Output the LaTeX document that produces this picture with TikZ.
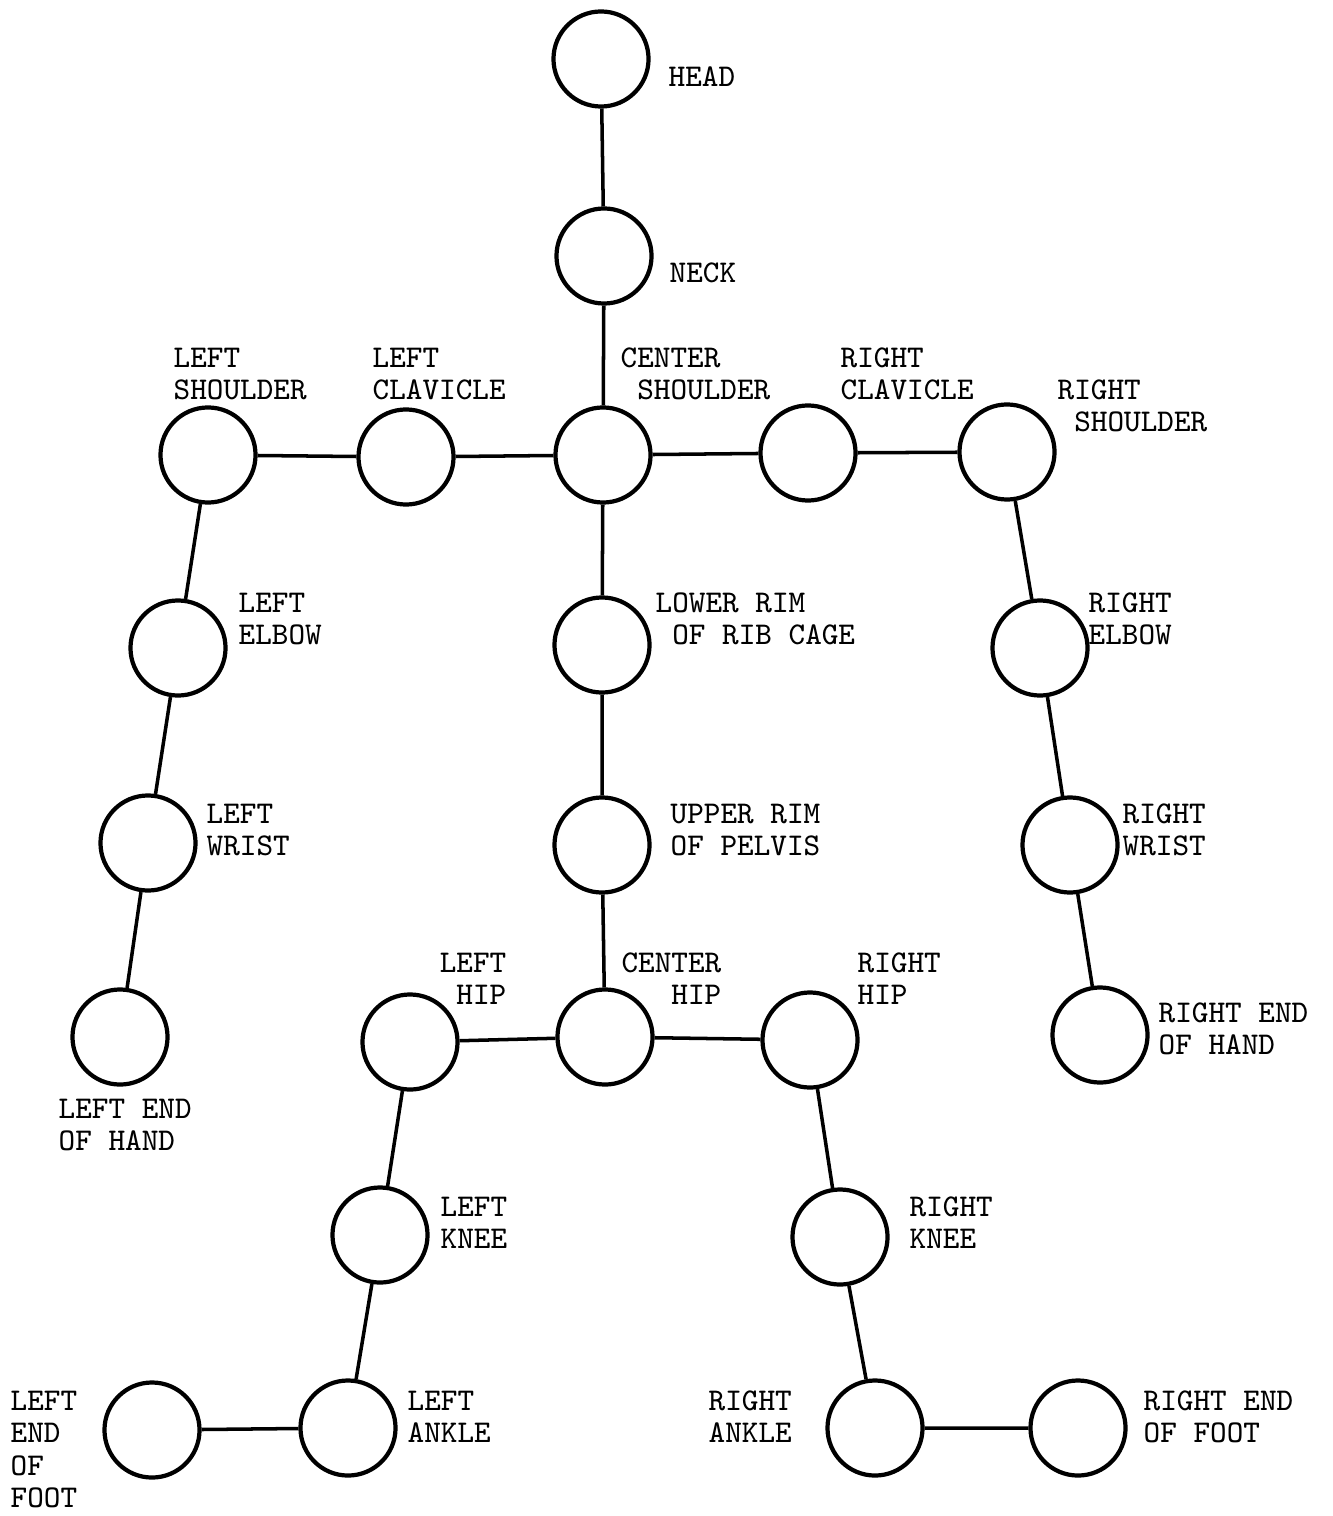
\documentclass[tikz,border=0pt]{standalone}
\usepackage{tikz}
\usetikzlibrary{positioning}

\begin{document}
\begin{tikzpicture}[x=0.01cm, y=-0.01cm,
  joint/.style={circle, draw, line width=1.2pt, minimum size=0.95cm, inner sep=0pt},
  bone/.style={line width=1pt},
  lbl/.style={inner sep=0pt, align=left, anchor=north west,
    font=\ttfamily\fontsize{9}{9.25}\selectfont},
  lblr/.style={lbl, align=right, anchor=north east}]
  \useasboundingbox (0,0) rectangle (1332,1516);

  % Spine
  \node[joint] (head) at (601,59) {};
  \node[joint] (neck) at (604,256) {};
  \node[joint] (cshoulder) at (603,455) {};
  \node[joint] (lowerrim) at (602,645) {};
  \node[joint] (upperrim) at (602,845) {};
  \node[joint] (chip) at (605,1037) {};

  % Shoulders and arms
  \node[joint] (lclavicle) at (406,457) {};
  \node[joint] (lshoulder) at (208,455) {};
  \node[joint] (lelbow) at (178,648) {};
  \node[joint] (lwrist) at (148,843) {};
  \node[joint] (lhand) at (120,1037) {};
  \node[joint] (rclavicle) at (808,453) {};
  \node[joint] (rshoulder) at (1007,452) {};
  \node[joint] (relbow) at (1040,648) {};
  \node[joint] (rwrist) at (1070,845) {};
  \node[joint] (rhand) at (1100,1035) {};

  % Hips and legs
  \node[joint] (lhip) at (410,1042) {};
  \node[joint] (lknee) at (380,1235) {};
  \node[joint] (lankle) at (348,1428) {};
  \node[joint] (lfoot) at (152,1430) {};
  \node[joint] (rhip) at (810,1040) {};
  \node[joint] (rknee) at (840,1237) {};
  \node[joint] (rankle) at (875,1428) {};
  \node[joint] (rfoot) at (1078,1428) {};

  % Bones
  \draw[bone] (head) -- (neck) -- (cshoulder) -- (lowerrim) -- (upperrim) -- (chip);
  \draw[bone] (lhand) -- (lwrist) -- (lelbow) -- (lshoulder) -- (lclavicle) -- (cshoulder);
  \draw[bone] (cshoulder) -- (rclavicle) -- (rshoulder) -- (relbow) -- (rwrist) -- (rhand);
  \draw[bone] (lfoot) -- (lankle) -- (lknee) -- (lhip) -- (chip);
  \draw[bone] (chip) -- (rhip) -- (rknee) -- (rankle) -- (rfoot);

  % Labels
  \node[lbl] (headlbl) at (668,66) {HEAD};
  \node[lbl] (necklbl) at (669,262) {NECK};
  \node[lbl] (lshoulderlbl) at (173,347) {LEFT\\SHOULDER};
  \node[lbl] (lclaviclelbl) at (372,347) {LEFT\\CLAVICLE};
  \node[lbl] (cshoulderlbl) at (620,347) {CENTER\\\hphantom{S}SHOULDER};
  \node[lbl] (rclaviclelbl) at (840,347) {RIGHT\\CLAVICLE};
  \node[lbl] (rshoulderlbl) at (1057,379) {RIGHT\\\hphantom{S}SHOULDER};
  \node[lbl] (lelbowlbl) at (238,592) {LEFT\\ELBOW};
  \node[lbl] (lowerrimlbl) at (655,592) {LOWER RIM\\\hphantom{O}OF RIB CAGE};
  \node[lbl] (relbowlbl) at (1088,592) {RIGHT\\ELBOW};
  \node[lbl] (lwristlbl) at (206,803) {LEFT\\WRIST};
  \node[lbl] (upperrimlbl) at (670,803) {UPPER RIM\\OF PELVIS};
  \node[lbl] (rwristlbl) at (1122,803) {RIGHT\\WRIST};
  \node[lblr] (lhiplbl) at (507,952) {LEFT\\HIP};
  \node[lblr] (chiplbl) at (722,952) {CENTER\\HIP};
  \node[lbl] (rhiplbl) at (857,952) {RIGHT\\HIP};
  \node[lbl] (rhandlbl) at (1158,1002) {RIGHT END\\OF HAND};
  \node[lbl] (lhandlbl) at (58,1098) {LEFT END\\OF HAND};
  \node[lbl] (lkneelbl) at (440,1196) {LEFT\\KNEE};
  \node[lbl] (rkneelbl) at (909,1196) {RIGHT\\KNEE};
  \node[lbl] (lfootlbl) at (10,1390) {LEFT\\END\\OF\\FOOT};
  \node[lbl] (lanklelbl) at (407,1390) {LEFT\\ANKLE};
  \node[lbl] (ranklelbl) at (708,1390) {RIGHT\\ANKLE};
  \node[lbl] (rfootlbl) at (1143,1390) {RIGHT END\\OF FOOT};
\end{tikzpicture}
\end{document}
